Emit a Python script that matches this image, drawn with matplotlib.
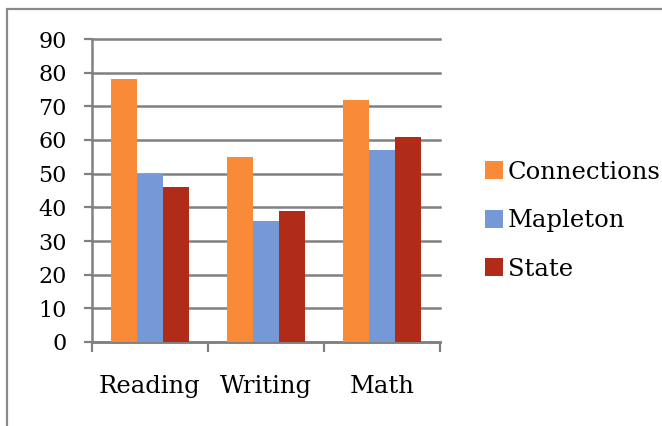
import numpy as np
import matplotlib.pyplot as plt
from matplotlib.patches import Rectangle

subjects = ["Reading", "Writing", "Math"]
series_names = ["Connections", "Mapleton", "State"]
connections = [78, 55, 72]
mapleton = [50, 36, 57]
state = [46, 39, 61]
yticks = [0, 10, 20, 30, 40, 50, 60, 70, 80, 90]

colors = ["#F98A38", "#7599D6", "#B02B18"]
grid_gray = "#808080"

plt.rcParams["font.family"] = ["DejaVu Serif"]

fig = plt.figure(figsize=(6.62, 4.26), dpi=100)
ax = fig.add_axes([92 / 662, 1 - 342 / 426, 348 / 662, 303 / 426])

# outer chart frame, running off the right and bottom edges
fig.patches.append(Rectangle((7 / 662, -0.1), 1.1, 1 - 9 / 426 + 0.1,
                             transform=fig.transFigure, fill=False,
                             edgecolor="#8a8a8a", linewidth=1.6))

x = np.arange(len(subjects))
w = 1 / 4.5  # 150% gap width
for i, (vals, name) in enumerate(zip([connections, mapleton, state], series_names)):
    ax.bar(x + (i - 1) * w, vals, width=w, color=colors[i], label=name, zorder=3)

ax.set_xlim(-0.5, 2.5)
ax.set_ylim(0, 90)
ax.set_yticks(yticks)
ax.yaxis.grid(True, color=grid_gray, linewidth=1.8, zorder=0)
for gl in ax.yaxis.get_gridlines():
    gl.set_clip_on(False)
ax.set_axisbelow(True)

ax.set_xticks([-0.5, 0.5, 1.5, 2.5])
ax.set_xticklabels([])
ax.set_xticks(x, minor=True)
ax.set_xticklabels(subjects, minor=True, fontsize=17.5)
ax.tick_params(axis="x", which="minor", length=0, pad=24)
ax.tick_params(axis="x", which="major", length=7, width=1.6, color=grid_gray)
ax.tick_params(axis="y", length=6, width=1.6, color=grid_gray, labelsize=16, pad=12)

for side in ["top", "right"]:
    ax.spines[side].set_visible(False)
for side in ["left", "bottom"]:
    ax.spines[side].set_color(grid_gray)
    ax.spines[side].set_linewidth(1.8)

ax.legend(loc="center left", bbox_to_anchor=(1.1, 0.4), frameon=False,
          fontsize=17.5, handlelength=0.75, handleheight=0.75, handletextpad=0.2,
          labelspacing=1.05, borderaxespad=0)

fig.savefig("out.png", dpi=100)
